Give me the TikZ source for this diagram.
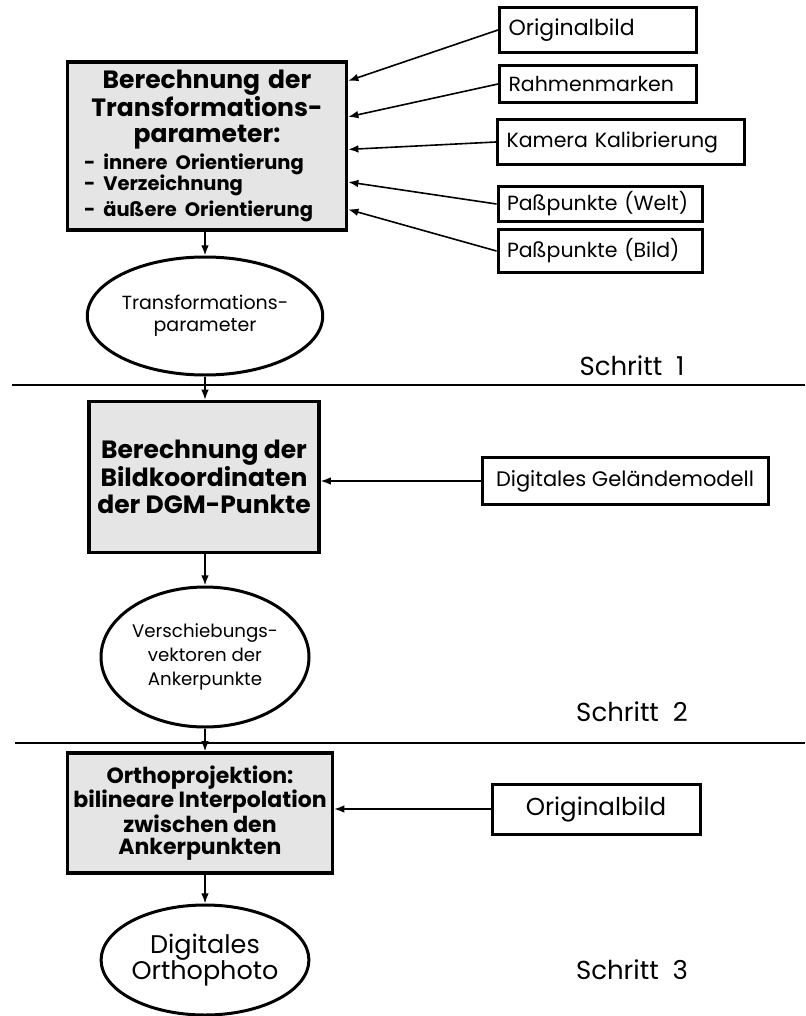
\documentclass[tikz,border=0pt]{standalone}
\usepackage{fontspec}
\setmainfont{Poppins}
\usetikzlibrary{arrows.meta,positioning,calc,shapes.geometric}

\begin{document}
\begin{tikzpicture}[>=Latex, x=1pt, y=-1pt]
  \tikzstyle{calcbox}=[draw, line width=3.4pt, fill=gray!20, font=\bfseries\fontsize{24}{26}\selectfont, align=center, inner sep=2pt]
  \tikzstyle{inbox}=[draw, line width=3pt, font=\fontsize{20.5}{24}\selectfont, align=left, inner xsep=9pt, inner ysep=0pt]
  \tikzstyle{result}=[draw, ellipse, line width=3pt, font=\fontsize{19}{22}\selectfont, align=center, inner sep=0pt]
  \tikzstyle{stepnote}=[font=\fontsize{26}{28}\selectfont]
  \tikzstyle{flow}=[->, line width=1.6pt]
  \useasboundingbox (0,0) rectangle (805,1016);

  \node[calcbox, minimum width=279pt, minimum height=168pt, text width=250pt, align=left] (calc1) at (207,146)
    {{\centering\fontsize{25}{26.5}\selectfont Berechnung der\\Transformations-\\parameter:\par}\vspace{4pt}
     \hspace*{2pt}\fontsize{19.5}{21}\selectfont - innere Orientierung\\\hspace*{2pt}- Verzeichnung\\\hspace*{2pt}- äußere Orientierung};
  \node[inbox, minimum width=197pt, minimum height=45pt, text width=179pt, font=\fontsize{22}{24}\selectfont] (orig1) at (598,30) {Originalbild};
  \node[inbox, minimum width=197pt, minimum height=37pt, text width=179pt] (rahmen) at (598,84) {Rahmenmarken};
  \node[inbox, minimum width=247pt, minimum height=45pt, text width=229pt] (kamera) at (621,142) {Kamera Kalibrierung};
  \node[inbox, minimum width=204pt, minimum height=35pt, text width=186pt] (welt) at (600,204) {Paßpunkte (Welt)};
  \node[inbox, minimum width=204pt, minimum height=42pt, text width=186pt] (bild) at (600,251) {Paßpunkte (Bild)};
  \node[result, minimum width=235pt, minimum height=118pt] (param) at (205,316) {Transformations-\\parameter};
  \node[stepnote] (s1) at (632,366) {Schritt\ \ 1};

  \node[calcbox, minimum width=230pt, minimum height=151pt, font=\bfseries\fontsize{25}{26.5}\selectfont] (calc2) at (204,477) {Berechnung der\\Bildkoordinaten\\der DGM-Punkte};
  \node[inbox, align=center, minimum width=286pt, minimum height=47pt, font=\fontsize{21}{24}\selectfont] (dgm) at (625,481) {Digitales Geländemodell};
  \node[result, minimum width=208pt, minimum height=140pt, font=\fontsize{18.2}{24}\selectfont] (shift) at (205,657) {Verschiebungs-\\vektoren der\\Ankerpunkte};
  \node[stepnote] (s2) at (632,712) {Schritt\ \ 2};

  \node[calcbox, minimum width=265pt, minimum height=120pt, font=\bfseries\fontsize{22}{22.5}\selectfont] (ortho) at (200,813) {Orthoprojektion:\\bilineare Interpolation\\zwischen den\\Ankerpunkten};
  \node[inbox, align=center, minimum width=208pt, minimum height=50pt, font=\fontsize{24.5}{26}\selectfont] (orig3) at (596,809) {Originalbild};
  \node[result, minimum width=193pt, minimum height=110pt, font=\fontsize{25.5}{24}\selectfont] (photo) at (205,960) {Digitales\\Orthophoto};
  \node[stepnote] (s3) at (632,970) {Schritt\ \ 3};

  \draw[line width=2pt] (12,385) -- (805,385);
  \draw[line width=2pt] (15,743) -- (805,743);

  \foreach \src/\frac in {orig1/0.12, rahmen/0.33, kamera/0.52, welt/0.71, bild/0.87}
    \draw[flow] (\src.west) -- ($(calc1.north east)!\frac!(calc1.south east)$);
  \draw[flow] (calc1.south -| param.north) -- (param.north);
  \draw[flow] (param.south) -- (calc2.north -| param.south);
  \draw[flow] (dgm.west) -- (calc2.east |- dgm.west);
  \draw[flow] (calc2.south -| shift.north) -- (shift.north);
  \draw[flow] (shift.south) -- (ortho.north -| shift.south);
  \draw[flow] (orig3.west) -- (ortho.east |- orig3.west);
  \draw[flow] (ortho.south -| photo.north) -- (photo.north);
\end{tikzpicture}
\end{document}
